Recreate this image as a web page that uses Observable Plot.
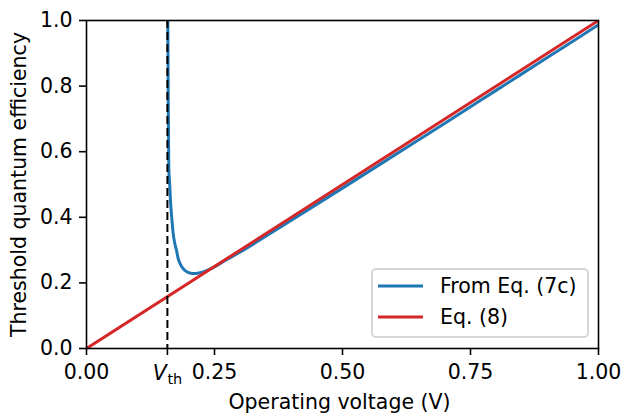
<!DOCTYPE html>
<html><head><meta charset="utf-8">
<script src="https://cdn.jsdelivr.net/npm/d3@7"></script>
<script src="https://cdn.jsdelivr.net/npm/@observablehq/plot@0.6"></script>
<style>body{margin:0;background:#fff}</style>
</head><body><div id="chart"></div>
<script>
const vth = 0.158;
const eq8X = [0, 1];
const eq8Y = [0, 1];
const fitX = [0.1588, 0.1596, 0.1607, 0.1625, 0.164, 0.167, 0.1693, 0.1725, 0.1758, 0.179, 0.183, 0.188, 0.194, 0.2, 0.207, 0.214, 0.222, 0.232, 0.242, 0.25, 0.27, 0.3, 0.35, 0.4, 0.5, 0.6, 0.7, 0.8, 0.9, 1.0];
const fitY = [1.0, 0.756, 0.552, 0.5, 0.451, 0.39, 0.351, 0.32, 0.299, 0.275, 0.258, 0.245, 0.236, 0.231, 0.229, 0.229, 0.231, 0.236, 0.243, 0.249, 0.268, 0.294, 0.342, 0.391, 0.489, 0.588, 0.687, 0.787, 0.887, 0.987];
const xTicks = [0, vth, 0.25, 0.5, 0.75, 1];
const yTicks = [0, 0.2, 0.4, 0.6, 0.8, 1.0];
const seriesNames = ["From Eq. (7c)", "Eq. (8)"];
const seriesColors = ["#1f77b4", "#d62728"];
const xLabel = "Operating voltage (V)";
const yLabel = "Threshold quantum efficiency";

const fit = fitX.map((x, i) => ({x, y: fitY[i]}));
const eq8 = eq8X.map((x, i) => ({x, y: eq8Y[i]}));
const fmt2 = d3.format(".2f");
const FS = 20.5;

const svg = Plot.plot({
  width: 622, height: 414,
  marginLeft: 86, marginRight: 24, marginTop: 20, marginBottom: 66,
  style: {fontFamily: "DejaVu Sans", fontSize: FS + "px", color: "#000", background: "#fff", overflow: "visible"},
  x: {domain: [0, 1]},
  y: {domain: [0, 1]},
  marks: [
    Plot.line(fit, {x: "x", y: "y", stroke: seriesColors[0], strokeWidth: 3, curve: "monotone-x", clip: true}),
    Plot.line(eq8, {x: "x", y: "y", stroke: seriesColors[1], strokeWidth: 3, clip: true}),
    Plot.ruleX([vth], {stroke: "#000", strokeWidth: 2, strokeDasharray: "8,4"}),
    Plot.frame({stroke: "#000", strokeWidth: 1.6}),
    Plot.axisX({ticks: xTicks, tickFormat: d => d === vth ? "" : fmt2(d), tickSize: 7, tickPadding: 9, strokeWidth: 1.6, label: null, fontSize: FS}),
    Plot.axisY({ticks: yTicks, tickFormat: d3.format(".1f"), tickSize: 7, tickPadding: 7, strokeWidth: 1.6, label: null, fontSize: FS}),
    Plot.text([vth], {x: d => d, frameAnchor: "bottom", dy: 31, dx: -0.5, lineAnchor: "bottom", textAnchor: "end", text: () => "V", fontStyle: "italic", fontSize: FS}),
    Plot.text([vth], {x: d => d, frameAnchor: "bottom", dy: 35, dx: 0, lineAnchor: "bottom", textAnchor: "start", text: () => "th", fontSize: 14.5}),
    Plot.text([xLabel], {frameAnchor: "bottom", dy: 60.5, dx: -3, lineAnchor: "bottom", textAnchor: "middle", text: d => d, fontSize: FS}),
    Plot.text([yLabel], {frameAnchor: "left", dx: -61, rotate: -90, lineAnchor: "bottom", textAnchor: "middle", text: d => d, fontSize: FS})
  ]
});

// legend (lower right), matplotlib style
const lg = d3.select(svg).append("g").attr("font-family", "DejaVu Sans").attr("font-size", FS).attr("text-anchor", "start");
lg.append("rect").attr("x", 372).attr("y", 269).attr("width", 216).attr("height", 68)
  .attr("rx", 4).attr("fill", "#fff").attr("fill-opacity", 0.8).attr("stroke", "#cccccc").attr("stroke-width", 1.6);
seriesNames.forEach((name, i) => {
  const cy = 286 + i * 31;
  lg.append("line").attr("x1", 378).attr("x2", 423).attr("y1", cy).attr("y2", cy)
    .attr("stroke", seriesColors[i]).attr("stroke-width", 3);
  lg.append("text").attr("x", 440).attr("y", cy + 7).attr("fill", "#000").attr("text-anchor", "start").text(name);
});

document.getElementById("chart").appendChild(svg);
</script>
</body></html>
